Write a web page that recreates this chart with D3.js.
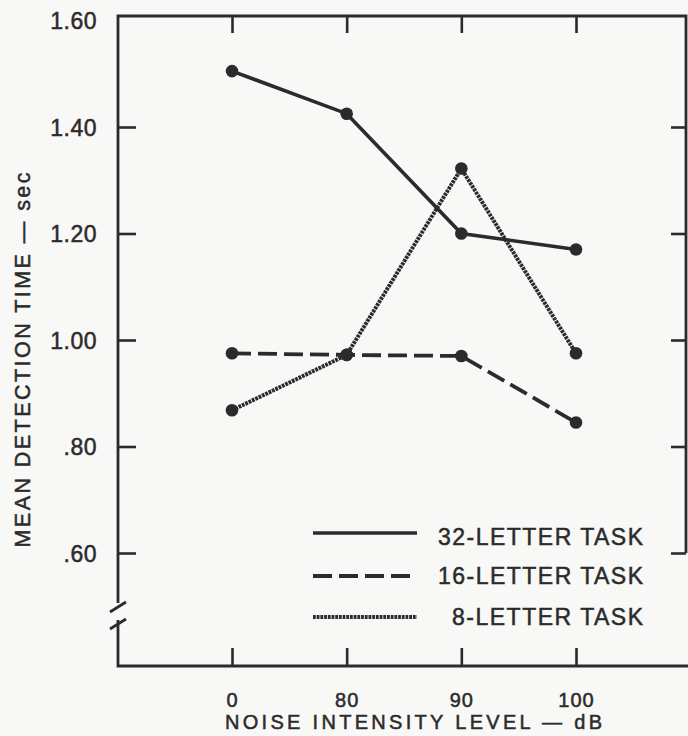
<!DOCTYPE html>
<html>
<head>
<meta charset="utf-8">
<script src="https://cdn.jsdelivr.net/npm/d3@7"></script>
<style>
  html, body { margin: 0; padding: 0; background: #f8f8f6; }
  svg { display: block; }
  text { font-family: "Liberation Sans", Arial, Helvetica, sans-serif; fill: #2b2b2b; stroke: #2b2b2b; stroke-width: 0.5px; }
</style>
</head>
<body>
<svg id="chart" width="688" height="736"></svg>
<script>
const categories = ["0", "80", "90", "100"];
const task32 = [1.505, 1.425, 1.20, 1.17];
const task16 = [0.975, 0.972, 0.970, 0.845];
const task8  = [0.868, 0.972, 1.322, 0.975];
const yTicks = [0.60, 0.80, 1.00, 1.20, 1.40, 1.60];
const yTickLabels = [".60", ".80", "1.00", "1.20", "1.40", "1.60"];
const seriesNames = ["32-LETTER TASK", "16-LETTER TASK", "8-LETTER TASK"];
const xTitle = "NOISE INTENSITY LEVEL — dB";
const yTitle = "MEAN DETECTION TIME — sec";

const ink = "#2b2b2b";
const svg = d3.select("#chart");

const pL = 118, pR = 686, pT = 16, pB = 666;
const x = d3.scalePoint().domain(categories).range([232, 576]);
const y = d3.scaleLinear().domain([0.60, 1.40]).range([553, 127]);

// frame: top, right (partial), bottom, left with break
const frame = svg.append("g").attr("stroke", ink).attr("stroke-width", 2.8).attr("fill", "none");
frame.append("path").attr("d", `M${pL},603 V${pT} H${pR} V${y(0.60)}`);
frame.append("path").attr("d", `M${pL},620 V${pB} H688`);
// break slashes
frame.append("path").attr("d", `M110,612 L126,602`);
frame.append("path").attr("d", `M110,629 L126,619`);

// left axis (inward ticks, labels outside)
const fmt = d => yTickLabels[yTicks.indexOf(d)];
const gl = svg.append("g").attr("transform", `translate(${pL},0)`)
  .call(d3.axisLeft(y).tickValues(yTicks).tickSizeInner(-18).tickSizeOuter(0).tickPadding(21).tickFormat(fmt));
gl.select(".domain").remove();
gl.selectAll(".tick line").attr("stroke", ink).attr("stroke-width", 2.6)
  .filter(d => d > 1.5).remove();
gl.selectAll(".tick text").attr("font-size", 23).attr("letter-spacing", 0.5).attr("dy", "0.36em").style("fill", ink);

// right axis ticks
const gr = svg.append("g").attr("transform", `translate(${pR},0)`)
  .call(d3.axisRight(y).tickValues(yTicks.filter(v => v < 1.5)).tickSizeInner(-15).tickSizeOuter(0).tickFormat(""));
gr.select(".domain").remove();
gr.selectAll(".tick line").attr("stroke", ink).attr("stroke-width", 2.6);

// top axis ticks
const gt = svg.append("g").attr("transform", `translate(0,${pT})`)
  .call(d3.axisTop(x).tickSizeInner(-17).tickSizeOuter(0).tickFormat(""));
gt.select(".domain").remove();
gt.selectAll(".tick line").attr("stroke", ink).attr("stroke-width", 2.6);

// bottom axis
const gb = svg.append("g").attr("transform", `translate(0,${pB})`)
  .call(d3.axisBottom(x).tickSizeInner(-18).tickSizeOuter(0).tickPadding(0));
gb.select(".domain").remove();
gb.selectAll(".tick line").attr("stroke", ink).attr("stroke-width", 2.6);
gb.selectAll(".tick text").attr("font-size", 20).attr("letter-spacing", 1)
  .attr("y", 41).attr("dy", null).style("fill", ink);

// axis titles
svg.append("text").attr("x", 413.5).attr("y", 729).attr("text-anchor", "middle")
  .attr("font-size", 20).attr("textLength", 377).attr("lengthAdjust", "spacing").text(xTitle);
svg.append("text").attr("transform", "translate(30,360) rotate(-90)").attr("text-anchor", "middle")
  .attr("font-size", 21.5).attr("textLength", 375).attr("lengthAdjust", "spacing").text(yTitle);

// series
const styles = [
  { data: task32, dash: null, width: 3.6 },
  { data: task16, dash: "19 7", width: 3.8 },
  { data: task8,  dash: "2.8 0.9", width: 4 }
];
const line = d3.line().x((d, i) => x(categories[i])).y(d => y(d));
styles.forEach(s => {
  svg.append("path").datum(s.data).attr("d", line).attr("fill", "none")
    .attr("stroke", ink).attr("stroke-width", s.width)
    .attr("stroke-dasharray", s.dash);
  svg.append("g").selectAll("circle").data(s.data).join("circle")
    .attr("cx", (d, i) => x(categories[i])).attr("cy", d => y(d)).attr("r", 6.3).attr("fill", ink);
});

// legend
const legY = [533, 576, 617];
const legTextX = [438, 438, 452];
const legTextY = [545, 584, 625];
const legLen = [205, 205, 191];
styles.forEach((s, i) => {
  svg.append("line").attr("x1", 313).attr("x2", 417).attr("y1", legY[i]).attr("y2", legY[i])
    .attr("stroke", ink).attr("stroke-width", s.width).attr("stroke-dasharray", s.dash);
  svg.append("text").attr("x", legTextX[i]).attr("y", legTextY[i]).attr("font-size", 23)
    .attr("textLength", legLen[i]).attr("lengthAdjust", "spacing").text(seriesNames[i]);
});
</script>
</body>
</html>
